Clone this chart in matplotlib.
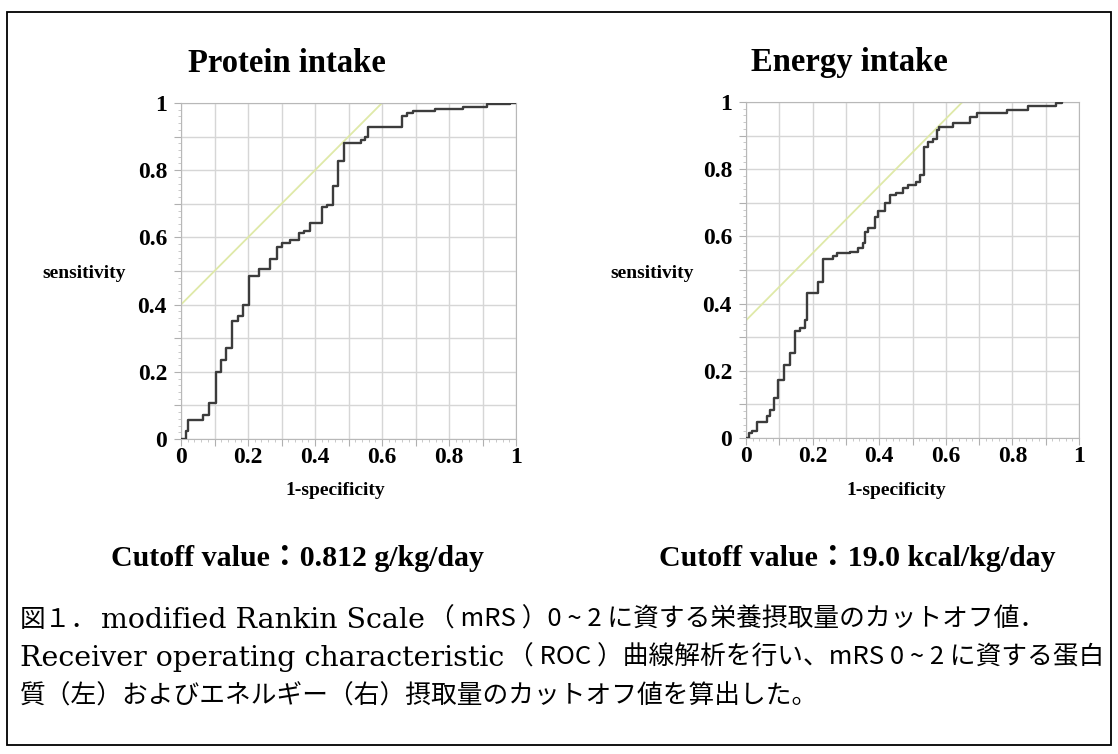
import matplotlib

matplotlib.use("Agg")
import matplotlib.pyplot as plt
from matplotlib.patches import Rectangle

# ROC step points (1-specificity, sensitivity)
prot_fpr = [0, 0.015, 0.022, 0.065, 0.085, 0.103, 0.118, 0.135, 0.152, 0.17, 0.185, 0.203,
            0.232, 0.267, 0.287, 0.302, 0.326, 0.352, 0.366, 0.385, 0.421, 0.436, 0.454,
            0.47, 0.486, 0.537, 0.55, 0.558, 0.659, 0.674, 0.694, 0.758, 0.843, 0.913, 0.982, 1.0]
prot_tpr = [0, 0.025, 0.057, 0.07, 0.107, 0.2, 0.235, 0.27, 0.35, 0.365, 0.4, 0.485,
            0.505, 0.535, 0.572, 0.584, 0.592, 0.613, 0.62, 0.643, 0.69, 0.697, 0.752,
            0.828, 0.881, 0.889, 0.9, 0.928, 0.962, 0.97, 0.975, 0.981, 0.987, 0.996, 1.0, 1.0]

ener_fpr = [0, 0.008, 0.018, 0.033, 0.063, 0.073, 0.083, 0.097, 0.115, 0.132, 0.148, 0.162,
            0.177, 0.184, 0.217, 0.232, 0.262, 0.272, 0.312, 0.337, 0.352, 0.357, 0.367,
            0.386, 0.396, 0.416, 0.431, 0.451, 0.471, 0.486, 0.511, 0.523, 0.536, 0.546,
            0.561, 0.573, 0.581, 0.622, 0.673, 0.693, 0.783, 0.847, 0.932, 0.95]
ener_tpr = [0, 0.015, 0.022, 0.047, 0.065, 0.084, 0.119, 0.173, 0.218, 0.252, 0.317, 0.327,
            0.351, 0.433, 0.465, 0.533, 0.541, 0.55, 0.554, 0.564, 0.579, 0.614, 0.624,
            0.658, 0.676, 0.698, 0.723, 0.73, 0.743, 0.752, 0.762, 0.782, 0.866, 0.881,
            0.891, 0.916, 0.926, 0.938, 0.954, 0.966, 0.976, 0.988, 0.996, 1.0]

# tangent lines through the cutoff point
prot_line_x = [0, 0.6]
prot_line_y = [0.4, 1.0]
ener_line_x = [0, 0.65]
ener_line_y = [0.35, 1.0]

titles = ["Protein intake", "Energy intake"]
cutoffs = ["Cutoff value：0.812 g/kg/day", "Cutoff value：19.0 kcal/kg/day"]
tick_vals = [0, 0.1, 0.2, 0.3, 0.4, 0.5, 0.6, 0.7, 0.8, 0.9, 1.0]
tick_labels = ["0", "", "0.2", "", "0.4", "", "0.6", "", "0.8", "", "1"]

# caption pieces: (text, "lat" = serif latin / "jp" = gothic)
caption = [
    [("図１．", "jp"), ("modified Rankin Scale", "lat"), ("（ mRS ）0 ~ 2 に資する栄養摂取量のカットオフ値．", "jp")],
    [("Receiver operating characteristic", "lat"), ("（ ROC ）曲線解析を行い、mRS 0 ~ 2 に資する蛋白", "jp")],
    [("質（左）およびエネルギー（右）摂取量のカットオフ値を算出した。", "jp")],
]

SERIF = ["Liberation Serif", "Noto Sans CJK JP"]
cap_font = {"lat": dict(family=["DejaVu Serif"], fontsize=20.5),
            "jp": dict(family=["Noto Sans CJK JP", "DejaVu Sans"], fontsize=18.5)}

W, H = 1118, 754
fig = plt.figure(figsize=(W / 100, H / 100), dpi=100)
fig.patches.append(Rectangle((7 / W, 9 / H), 1104 / W, 733 / H, transform=fig.transFigure,
                             fill=False, edgecolor="black", linewidth=1.3))

axes_pos = [[181 / W, 315 / H, 335 / W, 336 / H],
            [746 / W, 316 / H, 333 / W, 336 / H]]
title_x = [287 / W, 849 / W]
xlab_x = [335 / W, 896 / W]
ylab_x = [84 / W, 652 / W]
cut_x = [297 / W, 857 / W]

series = [(prot_fpr, prot_tpr, prot_line_x, prot_line_y),
          (ener_fpr, ener_tpr, ener_line_x, ener_line_y)]

for i, (fx, ty, lx, ly) in enumerate(series):
    ax = fig.add_axes(axes_pos[i])
    ax.set_xlim(0, 1)
    ax.set_ylim(0, 1)
    ax.set_xticks(tick_vals)
    ax.set_yticks(tick_vals)
    ax.set_xticklabels(tick_labels, family=SERIF, fontweight="bold", fontsize=17)
    ax.set_yticklabels(tick_labels, family=SERIF, fontweight="bold", fontsize=17)
    ax.set_xticks([v / 50 for v in range(51)], minor=True)
    ax.set_yticks([v / 50 for v in range(51)], minor=True)
    ax.tick_params(which="major", length=5, color="#b0b0b0")
    ax.tick_params(axis="y", which="major", pad=5)
    ax.tick_params(axis="x", which="major", pad=1)
    ax.tick_params(which="minor", length=2.5, color="#c0c0c0")
    ax.grid(True, which="major", color="#d6d6d6", linewidth=1)
    for s in ax.spines.values():
        s.set_color("#b8b8b8")
    ax.plot(lx, ly, color="#dfe9a8", linewidth=1.3, zorder=2)
    ax.step(fx, ty, where="post", color="#3c3c3c", linewidth=1.7, zorder=3)

    fig.text(title_x[i], 1 - 63 / H, titles[i], ha="center", va="center",
             family=SERIF, fontweight="bold", fontsize=23.5)
    fig.text(xlab_x[i], 1 - 491 / H, "1-specificity", ha="center", va="center",
             family=SERIF, fontweight="bold", fontsize=14)
    fig.text(ylab_x[i], 1 - 274 / H, "sensitivity", ha="center", va="center",
             family=SERIF, fontweight="bold", fontsize=14)
    fig.text(cut_x[i], 1 - 558 / H, cutoffs[i], ha="center", va="center",
             family=SERIF, fontweight="bold", fontsize=21.5)

# caption: place pieces one after another
rend = fig.canvas.get_renderer()
for j, line in enumerate(caption):
    x = 20
    y = 1 - [620, 658, 697][j] / H
    for txt, kind in line:
        t = fig.text(x / W, y, txt, ha="left", va="center", **cap_font[kind])
        x += t.get_window_extent(rend).width + 4

fig.savefig("out.png", dpi=100)
